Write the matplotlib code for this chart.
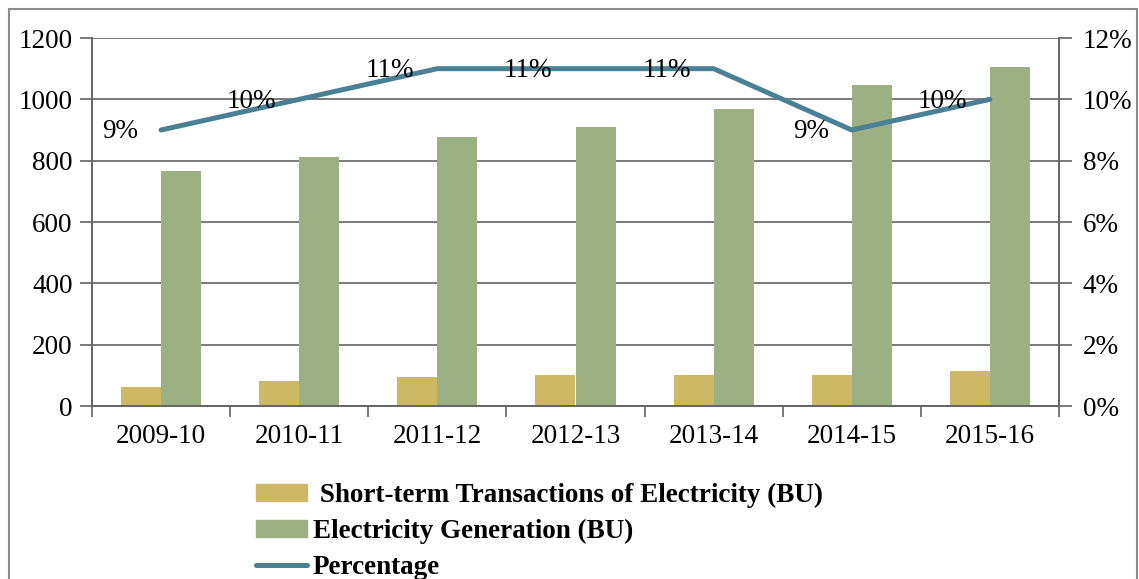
import numpy as np
import matplotlib.pyplot as plt
from matplotlib.patches import Rectangle, Patch
from matplotlib.lines import Line2D
from matplotlib.ticker import FixedLocator, FuncFormatter

years = ["2009-10", "2010-11", "2011-12", "2012-13", "2013-14", "2014-15", "2015-16"]
short_term = [62, 81, 95, 101, 101, 101, 114]
generation = [766, 812, 878, 910, 968, 1047, 1105]
percentage = [9, 10, 11, 11, 11, 9, 10]

gold = "#CDB865"
green = "#9DB083"
blue = "#4A8093"
grid_c = "#646464"

plt.rcParams['font.family'] = ['Liberation Serif', 'DejaVu Serif']

fig = plt.figure(figsize=(11.39, 5.79), dpi=100)
W, H = 1139, 579
ax = fig.add_axes([92/W, 1-406/H, (1059-92)/W, (406-38)/H])

x = np.arange(len(years))
bw = 0.29
ax.bar(x - bw, short_term, bw, align='edge', color=gold, zorder=2)
ax.bar(x, generation, bw, align='edge', color=green, zorder=2)

ax.set_xlim(-0.5, len(years) - 0.5)
ax.set_ylim(0, 1200)
ax.set_yticks(np.arange(0, 1201, 200))
ax.grid(axis='y', color=grid_c, lw=1.2, zorder=0)
ax.set_xticks(x)
ax.set_xticklabels(years, fontsize=19.5)
ax.tick_params(axis='x', length=0, pad=13)
ax.xaxis.set_minor_locator(FixedLocator(np.arange(-0.5, len(years), 1)))
ax.tick_params(axis='x', which='minor', length=8, width=1.2, color=grid_c)
ax.tick_params(axis='y', length=9, width=1.2, color=grid_c, labelsize=19.5, pad=5)
for s in ['left', 'bottom', 'right']:
    ax.spines[s].set_color(grid_c)
    ax.spines[s].set_linewidth(1.2)
ax.spines['top'].set_visible(False)

ax2 = ax.twinx()
ax2.plot(x, percentage, color=blue, lw=3.6, solid_capstyle='round', solid_joinstyle='round', zorder=3)
ax2.set_ylim(0, 12)
ax2.set_yticks(np.arange(0, 13, 2))
ax2.yaxis.set_major_formatter(FuncFormatter(lambda v, p: "%d%%" % v))
ax2.tick_params(axis='y', length=9, width=1.2, color=grid_c, labelsize=19.5, pad=8)
for s in ['left', 'bottom', 'right']:
    ax2.spines[s].set_color(grid_c)
    ax2.spines[s].set_linewidth(1.2)
ax2.spines['top'].set_visible(False)
for xi, p in zip(x, percentage):
    ax2.annotate("%d%%" % p, (xi, p), xytext=(-23, -2), textcoords='offset pixels',
                 ha='right', va='center', fontsize=19.5, zorder=4)

# outer chart border
fig.patches.append(Rectangle((9/W, -0.1), (1137-9)/W, 1.1 - 9/H, transform=fig.transFigure,
                             fill=False, edgecolor="#8c8c8c", lw=1.5))

handles = [Patch(color=gold), Patch(color=green),
           Line2D([0], [0], color=blue, lw=3.6, solid_capstyle='round')]
labels = [" Short-term Transactions of Electricity (BU)", "Electricity Generation (BU)", "Percentage"]
fig.legend(handles, labels, loc='upper left', bbox_to_anchor=(256/W, 1-483/H), frameon=False,
           prop={'weight': 'bold', 'size': 19.5}, borderpad=0, borderaxespad=0,
           handlelength=1.9, handleheight=0.55, handletextpad=0.2, labelspacing=0.4)

fig.savefig("out.png", dpi=100)
